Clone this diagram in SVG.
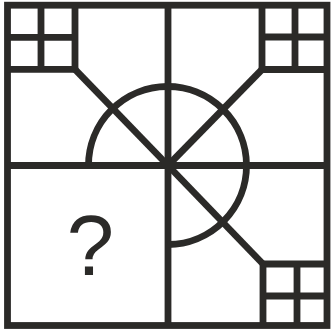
<svg xmlns="http://www.w3.org/2000/svg" width="331" height="331" viewBox="0 0 331 331">
<style>
.l{stroke:#2b2a28;stroke-width:6.8;fill:none;stroke-linecap:butt;stroke-linejoin:miter}
.t{font-family:"Liberation Sans",Arial,sans-serif;font-size:85px;fill:#2b2a28}
</style>
<rect width="331" height="331" fill="#fff"/>
<g id="frame">
<rect class="l" x="7.5" y="5.2" width="319.5" height="320.3"/>
<line class="l" x1="168" y1="5" x2="168" y2="325"/>
<line class="l" x1="7.5" y1="165.5" x2="327" y2="165.5"/>
</g>
<g id="grid-tl">
<polyline class="l" points="41,5 41,69"/>
<polyline class="l" points="7.5,37.3 75,37.3"/>
<polyline class="l" points="75,5 75,69.3 7.5,69.3"/>
</g>
<g id="grid-tr">
<polyline class="l" points="295,5 295,69.5"/>
<polyline class="l" points="262,37 327,37"/>
<polyline class="l" points="262,5 262,69.5 327,69.5"/>
</g>
<g id="grid-br">
<polyline class="l" points="297,264 297,325"/>
<polyline class="l" points="263,296 327,296"/>
<polyline class="l" points="263,325 263,264 327,264"/>
</g>
<g id="connectors">
<line class="l" x1="75" y1="69.3" x2="168" y2="165.5"/>
<line class="l" x1="262" y1="69.5" x2="168" y2="165.5"/>
<line class="l" x1="168" y1="165.5" x2="263" y2="264"/>
<path class="l" d="M88.5,165.5 A79,79 0 1 1 168,244.5"/>
</g>
<g id="question">
<text class="t" x="90.5" y="275" text-anchor="middle">?</text>
</g>
</svg>
